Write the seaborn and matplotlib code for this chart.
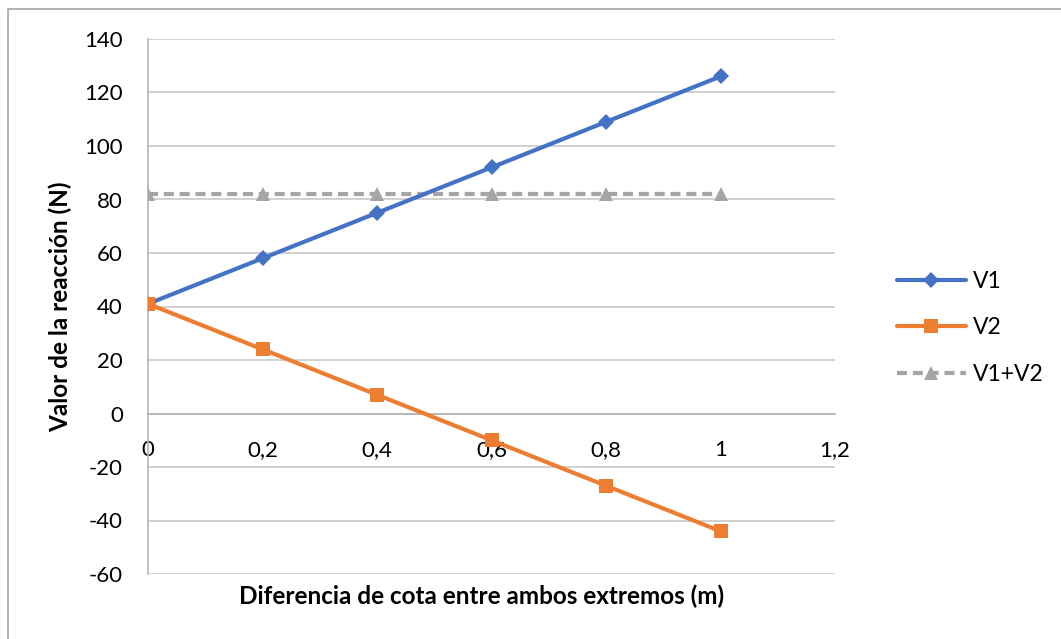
import matplotlib
matplotlib.use("Agg")
import matplotlib.pyplot as plt
import seaborn as sns
import pandas as pd
from matplotlib.patches import Rectangle

x_vals = [0, 0.2, 0.4, 0.6, 0.8, 1.0]
v1 = [41, 58, 75, 92, 109, 126]
v2 = [41, 24, 7, -10, -27, -44]
v12 = [82, 82, 82, 82, 82, 82]
series_names = ["V1", "V2", "V1+V2"]
x_ticks = [0, 0.2, 0.4, 0.6, 0.8, 1.0, 1.2]
x_tick_labels = ["0", "0,2", "0,4", "0,6", "0,8", "1", "1,2"]
y_ticks = [-60, -40, -20, 0, 20, 40, 60, 80, 100, 120, 140]

sns.set_theme(style="white")
plt.rcParams['font.family'] = ['Lato', 'DejaVu Sans']

df = pd.concat([
    pd.DataFrame({"x": x_vals, "y": v1, "serie": series_names[0]}),
    pd.DataFrame({"x": x_vals, "y": v2, "serie": series_names[1]}),
    pd.DataFrame({"x": x_vals, "y": v12, "serie": series_names[2]}),
])

fig = plt.figure(figsize=(10.61, 6.39), dpi=100)
ax = fig.add_axes([148/1061, 1-574/639, (835-148)/1061, (574-39)/639])

palette = {"V1": "#4472C4", "V2": "#ED7D31", "V1+V2": "#A5A5A5"}
markers = {"V1": "D", "V2": "s", "V1+V2": "^"}
sizes = {"V1": 8.5, "V2": 10, "V1+V2": 10}

for name in series_names:
    sub = df[df["serie"] == name]
    sns.lineplot(data=sub, x="x", y="y", ax=ax, color=palette[name],
                 marker=markers[name], markersize=sizes[name],
                 markeredgewidth=0, linewidth=3.0, label=name,
                 dashes=False, zorder=3 if name != "V1+V2" else 2)
    if name == "V1+V2":
        ln = ax.lines[-1]
        ln.set_dashes((2.4, 1.4))
        ln.set_dash_capstyle("butt")

ax.set_xlim(0, 1.2)
ax.set_ylim(-60, 140)
ax.set_yticks(y_ticks)
ax.set_yticklabels([str(v) for v in y_ticks])
ax.set_xticks(x_ticks)
ax.set_xticklabels(x_tick_labels)

ax.grid(axis="y", color="#C8C8C8", linewidth=1.2)
ax.grid(axis="x", visible=False)
ax.set_axisbelow(True)

for s in ["top", "right"]:
    ax.spines[s].set_visible(False)
ax.spines["left"].set_position(("data", 0))
ax.spines["bottom"].set_position(("data", 0))
for s in ["left", "bottom"]:
    ax.spines[s].set_color("#B4B4B4")
    ax.spines[s].set_linewidth(1.2)
    ax.spines[s].set_zorder(1)

ax.tick_params(axis="both", which="major", direction="out", length=7,
               width=1.2, color="#B4B4B4", labelsize=16, labelcolor="black")
ax.tick_params(axis="y", pad=11)
ax.tick_params(axis="x", pad=12)

ax.set_xlabel("Diferencia de cota entre ambos extremos (m)", fontsize=17.5,
              fontweight="bold", color="black")
ax.set_ylabel("Valor de la reacción (N)", fontsize=17.5, fontweight="bold",
              color="black")
ax.xaxis.set_label_coords(0.485, -0.02)
ax.yaxis.set_label_coords(-0.111, 0.5)

leg = ax.legend(loc="center left", bbox_to_anchor=(1.06, 0.46), frameon=False,
                fontsize=16.5, handlelength=3.0, handletextpad=0.3,
                labelspacing=1.1)
for t in leg.get_texts():
    t.set_color("black")

fig.patches.append(Rectangle((8/1061, -0.1), 1.2, 1 - 9/639 + 0.1,
                             transform=fig.transFigure, fill=False,
                             edgecolor="#A6A6A6", linewidth=1.2))

fig.savefig("out.png", dpi=100)
